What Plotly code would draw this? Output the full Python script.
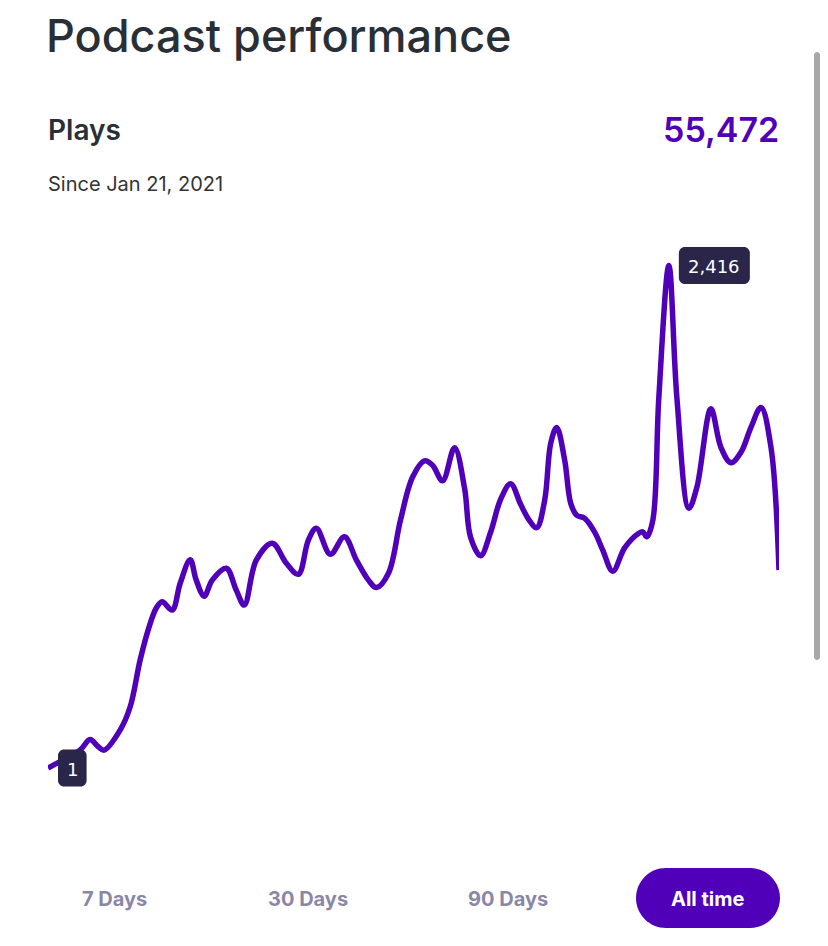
import pandas as pd
import plotly.graph_objects as go

START = "2021-01-21"
DAYS = [0, 6, 16, 21, 25, 28, 36, 41, 46, 50, 54, 57, 62, 66, 71, 74, 78, 82, 89, 94,
        98, 104, 112, 119, 125, 130, 134, 141, 148, 154, 160, 164, 170, 176, 182, 188, 192, 197, 203, 208,
        211, 216, 221, 226, 231, 236, 240, 244, 248, 251, 254, 258, 261, 264, 268, 273, 277, 282, 288, 295,
        297, 299, 302, 305, 310, 314, 320, 324, 331, 336, 341, 346, 351, 356, 361, 365]
PLAYS = [1, 32, 87, 138, 104, 87, 183, 294, 520, 664, 769, 800, 760, 889, 1002, 904, 827, 904, 961, 856,
         784, 1000, 1081, 985, 932, 1096, 1153, 1028, 1112, 1000, 904, 868, 937, 1192, 1398, 1477, 1456, 1381, 1540, 1345,
         1110, 1021, 1134, 1292, 1367, 1268, 1196, 1156, 1288, 1561, 1638, 1480, 1273, 1216, 1201, 1134, 1048, 947, 1060, 1129,
         1136, 1112, 1192, 1782, 2416, 1782, 1249, 1350, 1727, 1542, 1468, 1518, 1638, 1734, 1542, 952]

TOTAL_PLAYS = "55,472"
RANGES = ["7 Days", "30 Days", "90 Days", "All time"]

PURPLE = "#5000B9"
DARK = "#292F36"
TIP_BG = "#29264A"
MUTED = "#8A87A6"
FONT = "Inter"

# the page body has an 8px margin, so the figure is drawn 16px smaller
# and everything below is written in screenshot pixels
OFF = 8
W, H = 828 - 2 * OFF, 946 - 2 * OFF
L, R, T, B = 48, 779, 220, 820   # plot area, screenshot pixels


def px(x):
    return (x - L) / (R - L)


def py(y):
    return (B - y) / (B - T)


def rounded(x0, y0, x1, y1, r, fx=px, fy=py):
    k = 0.5523 * r
    sy = 1 if y1 > y0 else -1   # screenshot y grows down, pixel-shapes grow up
    pts = [
        ("M", [(x0 + r, y0)]),
        ("L", [(x1 - r, y0)]),
        ("C", [(x1 - r + k, y0), (x1, y0 + sy * (r - k)), (x1, y0 + sy * r)]),
        ("L", [(x1, y1 - sy * r)]),
        ("C", [(x1, y1 - sy * (r - k)), (x1 - r + k, y1), (x1 - r, y1)]),
        ("L", [(x0 + r, y1)]),
        ("C", [(x0 + r - k, y1), (x0, y1 - sy * (r - k)), (x0, y1 - sy * r)]),
        ("L", [(x0, y0 + sy * r)]),
        ("C", [(x0, y0 + sy * (r - k)), (x0 + r - k, y0), (x0 + r, y0)]),
    ]
    out = ""
    for cmd, ps in pts:
        out += cmd + " ".join(f"{fx(a):.5f},{fy(b):.5f}" for a, b in ps) + " "
    return out + "Z"


dates = pd.to_datetime(START) + pd.to_timedelta(DAYS, unit="D")
df = pd.DataFrame({"date": dates, "plays": PLAYS})

fig = go.Figure()
fig.add_trace(go.Scatter(
    x=df["date"], y=df["plays"], mode="lines",
    line=dict(color=PURPLE, width=5.5, shape="spline", smoothing=1),
    hoverinfo="skip",
))

# y scale: 1 -> 768px, 2416 -> 265.5px
per_px = (max(PLAYS) - min(PLAYS)) / (768 - 265.5)
y_hi = max(PLAYS) + (265.5 - T) * per_px
y_lo = min(PLAYS) - (B - 768) * per_px

fig.update_xaxes(visible=False, range=[dates[0], dates[-1]])
fig.update_yaxes(visible=False, range=[y_lo, y_hi])

ann = []
# header texts
ann.append(dict(text="Podcast performance", x=px(46), y=py(OFF), xanchor="left", yanchor="top",
                borderpad=0, borderwidth=0,
                font=dict(family=FONT, size=45, color=DARK, weight=500)))
ann.append(dict(text="Plays", x=px(46), y=py(130), xanchor="left", yanchor="middle",
                font=dict(family=FONT, size=28, color=DARK, weight=600)))
ann.append(dict(text=TOTAL_PLAYS, x=px(781), y=py(129), xanchor="right", yanchor="middle",
                font=dict(family=FONT, size=34, color=PURPLE, weight=600)))
ann.append(dict(text="Since Jan 21, 2021", x=px(46), y=py(184), xanchor="left", yanchor="middle",
                font=dict(family=FONT, size=20, color="#333333")))
for a in ann:
    a.update(xref="paper", yref="paper", showarrow=False)

shapes = [
    dict(type="path", xref="paper", yref="paper", path=rounded(636, 868, 780, 928, 30),
         fillcolor=PURPLE, line=dict(width=0), layer="below"),
    # scrollbar of the page
    dict(type="path", xref="paper", yref="paper", path=rounded(814, 52, 820, 660, 3),
         fillcolor="#A8A8A8", line=dict(width=0), layer="below"),
]

# value tips at the first point and the peak, as rounded boxes hung on the data point
peak = PLAYS.index(max(PLAYS))
for i in [0, peak]:
    label = f"{PLAYS[i]:,}"
    bw = 18 + 10.6 * len(label)
    gap = 10
    same = lambda v: v
    shapes.append(dict(type="path", xref="x", yref="y", xsizemode="pixel", ysizemode="pixel",
                       xanchor=dates[i], yanchor=PLAYS[i],
                       path=rounded(gap, 18.5, gap + bw, -18.5, 6, same, same),
                       fillcolor=TIP_BG, line=dict(width=0), layer="above"))
    ann.append(dict(x=dates[i], y=PLAYS[i], xref="x", yref="y", showarrow=False,
                    text=label, xanchor="center", yanchor="middle", xshift=gap + bw / 2, yshift=-1,
                    font=dict(family="DejaVu Sans", size=18, color="white")))

# range buttons
btn_x = [114, 308, 508, 708]
for name, bx in zip(RANGES, btn_x):
    sel = name == "All time"
    ann.append(dict(text=name, x=px(bx), y=py(899), xref="paper", yref="paper", showarrow=False,
                    xanchor="center", yanchor="middle",
                    font=dict(family=FONT, size=20, color="white" if sel else MUTED, weight=700)))

fig.update_layout(
    width=W, height=H,
    margin=dict(l=L - OFF, r=W - (R - OFF), t=T - OFF, b=H - (B - OFF)),
    paper_bgcolor="white", plot_bgcolor="white",
    showlegend=False,
    annotations=ann, shapes=shapes,
)

fig.write_html("out.html")
